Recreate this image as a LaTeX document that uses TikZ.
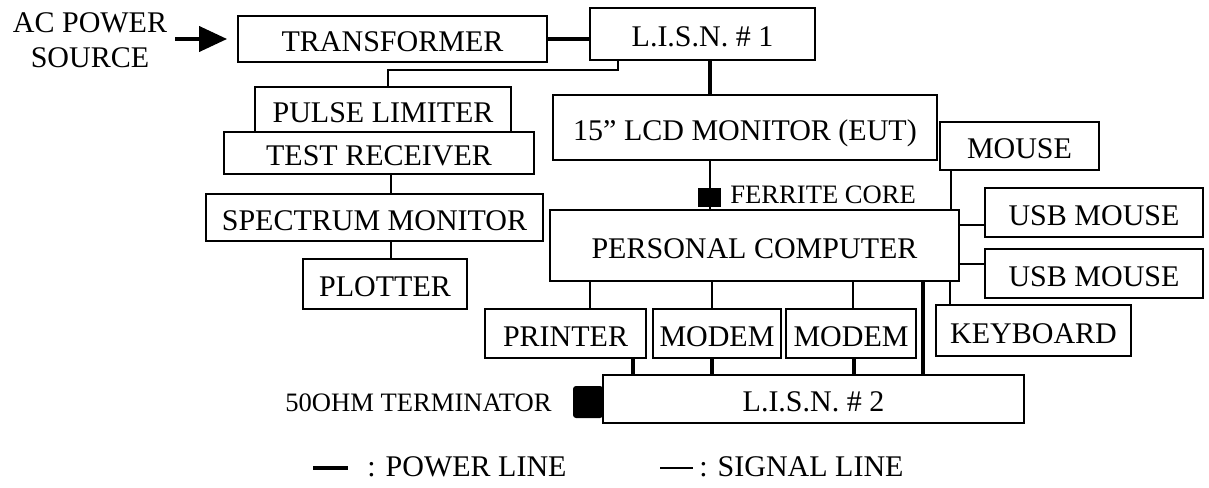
\documentclass[tikz,border=0pt]{standalone}
\usepackage{fontspec}
\setmainfont{Liberation Serif}
\usetikzlibrary{arrows.meta}
\tikzset{
  box/.style={draw, line width=0.9pt, inner sep=0pt, text height=12.5pt, text depth=0pt, font=\fontsize{15}{18}\selectfont},
  pw/.style={line width=2.2pt},
  sg/.style={line width=0.9pt},
  small/.style={font=\fontsize{13.3}{16}\selectfont, inner sep=0pt},
  label/.style={font=\fontsize{15}{17.5}\selectfont, inner sep=0pt},
  blk/.style={fill=black, draw=none, inner sep=0pt}
}
\begin{document}
\begin{tikzpicture}[x=0.5pt,y=-0.5pt]
\useasboundingbox (0,0) rectangle (1209,487);

% source and input chain
\node[label, align=center, inner sep=4pt] (src) at (90,40.5) {AC POWER\\SOURCE};
\node[box, minimum width=154.5pt, minimum height=23pt] (tr) at (392.5,39) {TRANSFORMER};
\node[box, minimum width=112.5pt, minimum height=26pt] (l1) at (702.5,34) {L.I.S.N. \# 1};

% measuring chain
\node[box, minimum width=128pt, minimum height=22.5pt] (pl) at (383,109.5) {PULSE LIMITER};
\node[box, minimum width=155pt, minimum height=21pt] (trc) at (379,153) {TEST RECEIVER};
\node[box, minimum width=168.5pt, minimum height=23.5pt] (sm) at (374.5,217.5) {SPECTRUM MONITOR};
\node[box, minimum width=82pt, minimum height=25pt] (pt) at (385,284) {PLOTTER};

% equipment under test and peripherals
\node[box, minimum width=192pt, minimum height=32.5pt] (lcd) at (745,127.5) {15” LCD MONITOR (EUT)};
\node[box, minimum width=204.5pt, minimum height=35.5pt] (pc) at (754.5,245.5) {PERSONAL COMPUTER};
\node[box, minimum width=79.5pt, minimum height=24pt] (mouse) at (1019.5,146) {MOUSE};
\node[box, minimum width=109pt, minimum height=24.5pt] (usb1) at (1094,212.5) {USB MOUSE};
\node[box, minimum width=109pt, minimum height=24.5pt] (usb2) at (1094,273.5) {USB MOUSE};
\node[box, minimum width=80.5pt, minimum height=24.5pt] (prn) at (565.5,333.5) {PRINTER};
\node[box, minimum width=64pt, minimum height=24.5pt] (mod1) at (717,333.5) {MODEM};
\node[box, minimum width=65pt, minimum height=24.5pt] (mod2) at (851,333.5) {MODEM};
\node[box, minimum width=97.5pt, minimum height=25.5pt] (kb) at (1033.5,330.5) {KEYBOARD};
\node[box, minimum width=210.5pt, minimum height=24pt] (l2) at (813.5,399) {L.I.S.N. \# 2};

% routing columns and rows
\coordinate (xk) at (618,70);
\coordinate (xp) at (388,70);
\coordinate (xm) at (391,0);
\coordinate (xl) at (710,0);
\coordinate (xmo) at (951,0);
\coordinate (yu1) at (0,225);
\coordinate (yu2) at (0,264);
\coordinate (xprs) at (590,0);
\coordinate (xm1s) at (712,0);
\coordinate (xm2s) at (853,0);
\coordinate (xkb) at (950,0);
\coordinate (xpcp) at (923,0);
\coordinate (xprp) at (633,0);
\coordinate (xm1p) at (712,0);
\coordinate (xm2p) at (854,0);

% input arrow
\draw[line width=2pt, -{Triangle[length=14pt,width=12.5pt]}] (src.east |- tr.west) -- ([xshift=-5pt]tr.west);

% power lines
\draw[pw] (tr.east) -- (tr.east -| l1.west);
\draw[pw] (l1.south -| xl) -- (lcd.north -| xl);
\draw[pw] (pc.south -| xpcp) -- (l2.north -| xpcp);
\draw[pw] (prn.south -| xprp) -- (l2.north -| xprp);
\draw[pw] (mod1.south -| xm1p) -- (l2.north -| xm1p);
\draw[pw] (mod2.south -| xm2p) -- (l2.north -| xm2p);

% signal lines
\draw[sg] (l1.south -| xk) -- (xk) -- (xp) -- (pl.north -| xp);
\draw[sg] (trc.south -| xm) -- (sm.north -| xm);
\draw[sg] (sm.south -| xm) -- (pt.north -| xm);
\draw[sg] (lcd.south -| xl) -- (pc.north -| xl);
\draw[sg] (mouse.south -| xmo) -- (pc.north -| xmo);
\draw[sg] (pc.east |- yu1) -- (usb1.west |- yu1);
\draw[sg] (pc.east |- yu2) -- (usb2.west |- yu2);
\draw[sg] (pc.south -| xprs) -- (prn.north -| xprs);
\draw[sg] (pc.south -| xm1s) -- (mod1.north -| xm1s);
\draw[sg] (pc.south -| xm2s) -- (mod2.north -| xm2s);
\draw[sg] (pc.south -| xkb) -- (kb.north -| xkb);

% ferrite core on the monitor cable
\node[blk, minimum width=11.5pt, minimum height=9.5pt] (fc) at (709.5,197.5) {};
\node[small, anchor=west] (fct) at (730,195) {FERRITE CORE};

% terminator on the second LISN
\node[blk, rounded corners=1.5pt, minimum width=15pt, minimum height=16pt] (term) at (588,402) {};
\node[small, anchor=east] (termt) at (552,403) {50OHM TERMINATOR};

% legend
\coordinate (lp1) at (313,468);
\coordinate (lp2) at (348,468);
\coordinate (ls1) at (660,468);
\coordinate (ls2) at (693,468);
\draw[pw] (lp1) -- (lp2);
\draw[sg] (ls1) -- (ls2);
\node[label, anchor=west] (legp) at (367,467) {: POWER LINE};
\node[label, anchor=west] (legs) at (699,467) {: SIGNAL LINE};
\end{tikzpicture}
\end{document}
